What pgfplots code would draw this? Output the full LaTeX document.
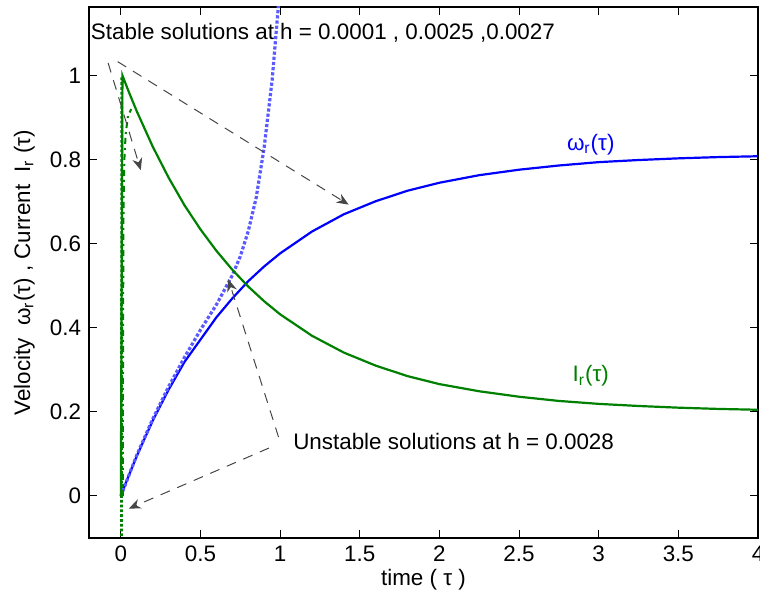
\documentclass[border=0pt]{standalone}
\usepackage{fontspec}
\setmainfont{Liberation Sans}
\usepackage{pgfplots}
\pgfplotsset{compat=1.18}
\usetikzlibrary{arrows.meta}
\definecolor{mblue}{RGB}{0,0,255}
\definecolor{mgreen}{RGB}{0,128,0}
\definecolor{dblue}{RGB}{90,90,255}
\definecolor{agray}{RGB}{70,70,70}
\begin{document}
\fontsize{11.2}{13}\selectfont
\begin{tikzpicture}
\begin{axis}[
  scale only axis, width=334.5pt, height=265.5pt,
  at={(0,0)}, anchor=south west,
  xmin=-0.2, xmax=4, ymin=-0.1, ymax=1.163,
  xtick={0,0.5,...,4}, ytick={0,0.2,...,1},
  xticklabels={0,0.5,1,1.5,2,2.5,3,3.5,4},
  yticklabels={0,0.2,0.4,0.6,0.8,1},
  tick align=inside, tick pos=both, major tick length=4pt,
  tick style={black, line width=0.5pt},
  axis line style={line width=0.7pt},
  /pgf/number format/assume math mode=true,
  tick label style={font=\fontsize{11.2}{13}\selectfont},
  label style={font=\fontsize{11.2}{13}\selectfont},
  xlabel={time ( τ )}, ylabel={Velocity \ ω\textsubscript{r}(τ) , Current \ I\textsubscript{r} (τ)},
  xlabel style={yshift=4pt},
  ylabel style={yshift=0pt},
  clip=true,
]
% omega_r stable
\addplot[mblue, line width=1.1pt] coordinates {
(0,0) (0.05,0.049) (0.1,0.095) (0.2,0.179) (0.3,0.253) (0.4,0.319) (0.5,0.372)
(0.6,0.425) (0.7,0.470) (0.8,0.511) (0.9,0.546) (1.0,0.577) (1.2,0.629) (1.4,0.670)
(1.6,0.701) (1.8,0.726) (2.0,0.745) (2.25,0.763) (2.5,0.776) (2.75,0.786) (3.0,0.794)
(3.25,0.799) (3.5,0.803) (3.75,0.806) (4.0,0.808)};
% omega_r unstable (dotted)
\addplot[dblue, line width=1.6pt, densely dotted] coordinates {
(0,0) (0.1,0.097) (0.2,0.183) (0.3,0.26) (0.4,0.33) (0.5,0.395) (0.6,0.455) (0.65,0.49)
(0.7,0.525) (0.75,0.57) (0.8,0.63) (0.85,0.71) (0.9,0.83) (0.95,0.99) (0.99,1.17) (1.0,1.22)};
% I_r unstable (dotted)
\addplot[mgreen, line width=1.4pt, densely dotted] coordinates {(0.004,-0.13) (0.004,0.0) (0.006,1.0)};
% I_r stable (dash-dot)
\addplot[mgreen, line width=1.0pt, dash dot] coordinates {
(0.012,0.0) (0.014,0.4) (0.017,0.7) (0.022,0.80) (0.03,0.86) (0.045,0.905) (0.065,0.92)};
% I_r stable
\addplot[mgreen, line width=1.1pt] coordinates {
(0,0) (0.01,1.0) (0.05,0.961) (0.1,0.915) (0.2,0.831) (0.3,0.757) (0.4,0.691) (0.5,0.634)
(0.6,0.583) (0.7,0.538) (0.8,0.498) (0.9,0.463) (1.0,0.432) (1.2,0.381) (1.4,0.341)
(1.6,0.310) (1.8,0.285) (2.0,0.266) (2.25,0.249) (2.5,0.236) (2.75,0.226) (3.0,0.219)
(3.25,0.214) (3.5,0.210) (3.75,0.207) (4.0,0.205)};
% annotations
\node[anchor=west, inner sep=0pt] at (axis cs:-0.19,1.102) {Stable solutions at h = 0.0001 , 0.0025 ,0.0027};
\node[anchor=west, inner sep=0pt] at (axis cs:1.08,0.129) {Unstable solutions at h = 0.0028};
\node[mblue] at (axis cs:2.95,0.835) {ω\textsubscript{r}(τ)};
\node[mgreen] at (axis cs:2.95,0.285) {I\textsubscript{r}(τ)};
\draw[agray, dashed, dash pattern=on 5pt off 4pt, line width=0.5pt, -{Stealth[length=6pt,width=5pt]}]
  (axis cs:-0.08,1.03) -- (axis cs:0.125,0.775);
\draw[agray, dashed, dash pattern=on 5pt off 4pt, line width=0.5pt, -{Stealth[length=6pt,width=5pt]}]
  (axis cs:-0.02,1.033) -- (axis cs:1.43,0.693);
\draw[agray, dashed, dash pattern=on 5pt off 4pt, line width=0.5pt, -{Stealth[length=6pt,width=5pt]}]
  (axis cs:0.99,0.14) -- (axis cs:0.675,0.515);
\draw[agray, dashed, dash pattern=on 5pt off 4pt, line width=0.5pt, -{Stealth[length=6pt,width=5pt]}]
  (axis cs:0.93,0.114) -- (axis cs:0.05,-0.03);
\end{axis}
\pgfresetboundingbox
\useasboundingbox (-44.5pt,-30.5pt) rectangle (335.5pt,269pt);
\end{tikzpicture}
\end{document}
